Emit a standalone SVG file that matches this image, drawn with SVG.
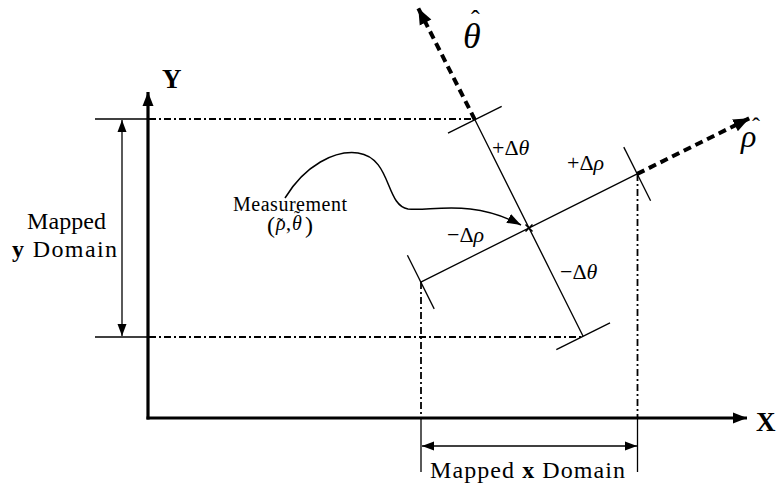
<svg xmlns="http://www.w3.org/2000/svg" width="781" height="487" viewBox="0 0 781 487">
<style>
.t{font-family:"Liberation Serif","DejaVu Serif",serif;fill:#000}
.it{font-style:italic}
.b{font-weight:bold}
.thin{stroke:#000;stroke-width:1.3;fill:none}
.dd{stroke:#000;stroke-width:1.8;fill:none;stroke-dasharray:7,3,2,3}
.thick{stroke:#000;stroke-width:3.2;fill:none}
.dash{stroke:#000;stroke-width:4;fill:none;stroke-dasharray:8,5}
</style>
<defs>
<marker id="ah" markerUnits="userSpaceOnUse" markerWidth="16" markerHeight="12" refX="14" refY="6" orient="auto"><path d="M0,0.5 L14,6 L0,11.5 Z" fill="#000"/></marker>
<marker id="ahb" markerUnits="userSpaceOnUse" markerWidth="18" markerHeight="14" refX="16" refY="7" orient="auto"><path d="M0,0.5 L16,7 L0,13.5 Z" fill="#000"/></marker>
<marker id="as" markerUnits="userSpaceOnUse" markerWidth="14" markerHeight="10" refX="12" refY="5" orient="auto-start-reverse"><path d="M0,0.5 L12,5 L0,9.5 Z" fill="#000"/></marker>
<marker id="ac" markerUnits="userSpaceOnUse" markerWidth="16" markerHeight="12" refX="14" refY="6" orient="auto"><path d="M0,1 L14,6 L0,11 Z" fill="#000"/></marker>
</defs>
<g id="connectors">
<line class="thin" x1="95" y1="119" x2="149" y2="119"/>
<line class="dd" x1="149" y1="119" x2="475" y2="119"/>
<line class="thin" x1="95" y1="337" x2="149" y2="337"/>
<line class="dd" x1="149" y1="337" x2="583" y2="337"/>
<line class="dd" x1="421" y1="282" x2="421" y2="418"/>
<line class="thin" x1="421" y1="418" x2="421" y2="472"/>
<line class="dd" x1="637.5" y1="174" x2="637.5" y2="418"/>
<line class="thin" x1="637.5" y1="418" x2="637.5" y2="472"/>
<line class="thin" x1="122" y1="120" x2="122" y2="336" marker-start="url(#as)" marker-end="url(#as)"/>
<line class="thin" x1="422" y1="446" x2="637" y2="446" marker-start="url(#as)" marker-end="url(#as)"/>
<line class="thick" x1="148" y1="419.5" x2="148" y2="92" marker-end="url(#ah)"/>
<line class="thick" x1="146.5" y1="418" x2="747" y2="418" marker-end="url(#ah)"/>
<line class="thin" x1="420.8" y1="282.1" x2="637.2" y2="173.9"/>
<line class="thin" x1="474.9" y1="119.8" x2="583.1" y2="336.2"/>
<line class="thin" x1="448" y1="133.2" x2="501.7" y2="106.4"/>
<line class="thin" x1="556.3" y1="349.6" x2="610" y2="322.8"/>
<line class="thin" x1="623.8" y1="147.1" x2="650.6" y2="200.7"/>
<line class="thin" x1="407.4" y1="255.3" x2="434.2" y2="308.9"/>
<line class="dash" x1="474.9" y1="119.8" x2="418.3" y2="8.3" marker-end="url(#ahb)"/>
<line class="dash" x1="637.2" y1="173.9" x2="749.3" y2="118.3" marker-end="url(#ahb)"/>
<path class="thin" d="M525.5,224.5 L532.5,231.5 M525.5,231.5 L532.5,224.5" style="stroke-width:1.6"/>
<path class="thin" style="stroke-width:1.5" d="M285,198 C305,165 335,150 358,153 C392,158 385,205 408,209 C430,212 470,198 521,225" marker-end="url(#ac)"/>
</g>
<g id="axis-labels">
<text class="t b" x="162" y="88" font-size="27">Y</text>
<text class="t b" x="756" y="431" font-size="27">X</text>
</g>
<g id="y-domain">
<text class="t" x="27" y="229" font-size="24" textLength="79">Mapped</text>
<text class="t" x="12" y="257" font-size="24" textLength="105"><tspan class="b">y</tspan> Domain</text>
</g>
<g id="x-domain">
<text class="t" x="430" y="478" font-size="24" textLength="195">Mapped <tspan class="b">x</tspan> Domain</text>
</g>
<g id="measurement">
<text class="t" x="233" y="211" font-size="20" textLength="114">Measurement</text>
<text class="t" x="267" y="233" font-size="24">(<tspan class="it" font-size="20" x="276" y="230">ρ</tspan><tspan font-size="20" x="286" y="230">,</tspan><tspan class="it" font-size="20" x="292" y="230">θ</tspan><tspan x="305" y="233">)</tspan></text>
<text class="t" x="277" y="231" font-size="18">˜<tspan x="294" y="224">˜</tspan></text>
</g>
<g id="theta-axis-label">
<text class="t it" x="463" y="48" font-size="36">θ</text>
<text class="t" x="471" y="28" font-size="26">ˆ</text>
</g>
<g id="rho-axis-label">
<text class="t it" x="741" y="147" font-size="32">ρ</text>
<text class="t" x="752" y="134" font-size="24">ˆ</text>
</g>
<g id="delta-labels">
<text class="t" x="492" y="155" font-size="22">+Δ<tspan class="it">θ</tspan></text>
<text class="t" x="567" y="170" font-size="22">+Δ<tspan class="it">ρ</tspan></text>
<text class="t" x="447" y="242" font-size="22">−Δ<tspan class="it">ρ</tspan></text>
<text class="t" x="560" y="279" font-size="22">−Δ<tspan class="it">θ</tspan></text>
</g>
</svg>
